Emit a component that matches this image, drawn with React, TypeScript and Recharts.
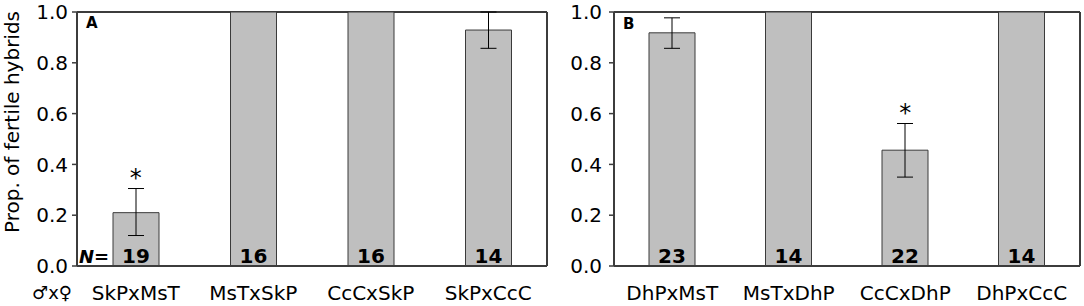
import React from 'react';
import { BarChart, Bar, XAxis, YAxis, ErrorBar, LabelList, ReferenceDot, CartesianGrid } from 'recharts';

const FONT = '"DejaVu Sans", sans-serif';
const AX = '#3c3c3c';

const catsA = ['SkPxMsT', 'MsTxSkP', 'CcCxSkP', 'SkPxCcC'];
const valsA = [0.21, 1.0, 1.0, 0.929];
const errLoA = [0.09, 0, 0, 0.072];
const errHiA = [0.095, 0, 0, 0.071];
const nA = [19, 16, 16, 14];
const sigA = [true, false, false, false];

const catsB = ['DhPxMsT', 'MsTxDhP', 'CcCxDhP', 'DhPxCcC'];
const valsB = [0.918, 1.0, 0.456, 1.0];
const errLoB = [0.061, 0, 0.106, 0];
const errHiB = [0.059, 0, 0.105, 0];
const nB = [23, 14, 22, 14];
const sigB = [false, false, true, false];

const yTicks = [0, 0.2, 0.4, 0.6, 0.8, 1.0];

const NLabel = (props: any) => {
  const { x, y, width, height, value } = props;
  return (
    <text x={x + width / 2} y={y + height - 3} textAnchor="middle" fontFamily={FONT} fontWeight="bold" fontSize={20} fill="#000">
      {value}
    </text>
  );
};

const Star = (props: any) => {
  const vb = props.viewBox || {};
  return (
    <text x={vb.x} y={vb.y - 3} textAnchor="middle" fontFamily={FONT} fontSize={24} fill="#000">
      *
    </text>
  );
};

type PanelProps = {
  cats: string[];
  vals: number[];
  lo: number[];
  hi: number[];
  ns: number[];
  sig: boolean[];
  width: number;
  yWidth: number;
  marginRight: number;
  tm: number;
};

const topLine = (p: any) => [p.offset.top];
const rightLine = (p: any) => [p.offset.left + p.offset.width];

const Panel = ({ cats, vals, lo, hi, ns, sig, width, yWidth, marginRight, tm }: PanelProps) => {
  const data = cats.map((c, i) => ({
    cat: c,
    v: vals[i],
    err: lo[i] || hi[i] ? [lo[i], hi[i]] : null,
    n: ns[i],
  }));
  return (
    <BarChart width={width} height={306} data={data} margin={{ top: 12, right: marginRight, bottom: 0, left: 0 }}>
      <CartesianGrid
        xAxisId="m"
        yAxisId="m"
        stroke={AX}
        strokeWidth={2}
        horizontalCoordinatesGenerator={topLine}
        verticalCoordinatesGenerator={rightLine}
      />
      <XAxis
        xAxisId="m"
        dataKey="cat"
        height={40}
        tickLine={false}
        tickSize={0}
        tickMargin={20}
        interval={0}
        axisLine={{ stroke: AX, strokeWidth: 2 }}
        tick={{ fontSize: 20, fill: '#000', fontFamily: FONT }}
      />
      <YAxis
        yAxisId="m"
        type="number"
        domain={[0, 1]}
        ticks={yTicks}
        width={yWidth}
        tickSize={5}
        tickMargin={tm}
        stroke={AX}
        axisLine={{ stroke: AX, strokeWidth: 2 }}
        tickLine={{ stroke: AX, strokeWidth: 1.5 }}
        tickFormatter={(v: number) => v.toFixed(1)}
        tick={{ fontSize: 20, fill: '#000', fontFamily: FONT }}
        allowDataOverflow
      />
      <Bar
        xAxisId="m"
        yAxisId="m"
        dataKey="v"
        fill="#bfbfbf"
        stroke="#3a3a3a"
        strokeWidth={1}
        barSize={46}
        isAnimationActive={false}
      >
        <ErrorBar dataKey="err" width={8} stroke="#000" strokeWidth={1} direction="y" />
        <LabelList dataKey="n" content={NLabel} />
      </Bar>
      {data.map((d, i) =>
        sig[i] ? (
          <ReferenceDot
            key={d.cat}
            xAxisId="m"
            yAxisId="m"
            x={d.cat}
            y={d.v + hi[i]}
            r={0}
            fill="none"
            stroke="none"
            label={Star}
          />
        ) : null
      )}
    </BarChart>
  );
};

export default function App() {
  return (
    <div style={{ position: 'absolute', left: 0, top: 0, width: 1084, height: 306, background: '#fff', overflow: 'hidden' }}>
      <div style={{ position: 'absolute', left: 0, top: 0 }}>
        <Panel cats={catsA} vals={valsA} lo={errLoA} hi={errHiA} ns={nA} sig={sigA} width={560} yWidth={77} marginRight={13} tm={4} />
      </div>
      <div style={{ position: 'absolute', left: 560, top: 0 }}>
        <Panel cats={catsB} vals={valsB} lo={errLoB} hi={errHiB} ns={nB} sig={sigB} width={524} yWidth={54} marginRight={4} tm={7} />
      </div>
      <svg width={1084} height={306} style={{ position: 'absolute', left: 0, top: 0, pointerEvents: 'none' }}>
        <text x={19} y={122} transform="rotate(-90 19 122)" textAnchor="middle" fontFamily={FONT} fontSize={20} fill="#000">
          Prop. of fertile hybrids
        </text>
        <text x={86} y={28} fontFamily={FONT} fontWeight="bold" fontSize={15} fill="#000">A</text>
        <text x={623} y={29} fontFamily={FONT} fontWeight="bold" fontSize={15} fill="#000">B</text>
        <text x={79} y={263} fontFamily={FONT} fontWeight="bold" fontSize={18} fill="#000">
          <tspan fontStyle="italic">N</tspan>=
        </text>
        <text x={32} y={299} fontFamily={FONT} fontSize={18} fill="#000">♂x♀</text>
      </svg>
    </div>
  );
}
